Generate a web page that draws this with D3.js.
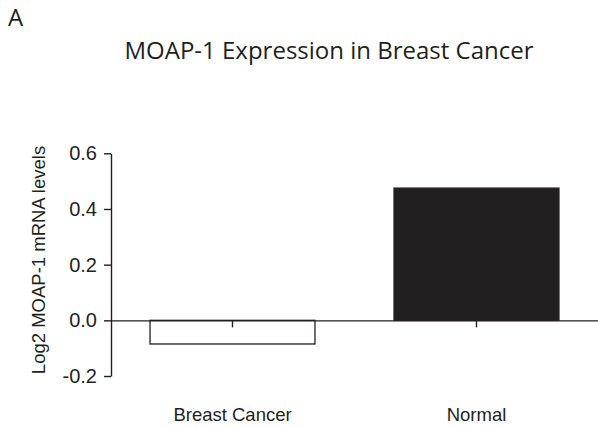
<!DOCTYPE html>
<html>
<head>
<meta charset="utf-8">
<script src="https://cdn.jsdelivr.net/npm/d3@7"></script>
<style>
  body { margin: 0; background: #fff; }
  svg { display: block; }
</style>
</head>
<body>
<svg id="chart" width="598" height="427"></svg>
<script>
// chart data
const categories = ["Breast Cancer", "Normal"];
const values = [-0.085, 0.475];
const yTicks = [-0.2, 0.0, 0.2, 0.4, 0.6];
const titleText = "MOAP-1 Expression in Breast Cancer";
const yLabel = "Log2 MOAP-1 mRNA levels";
const panelLabel = "A";

const ink = "#231f20";
const svg = d3.select("#chart");

const y = d3.scaleLinear()
    .domain([-0.2, 0.6])
    .range([376, 153.3]);

const x = d3.scaleBand()
    .domain(categories)
    .range([111, 598])
    .paddingInner(0.324)
    .paddingOuter(0.16);

// panel letter + title
svg.append("text")
    .attr("x", 8)
    .attr("y", 26)
    .attr("font-family", "Open Sans")
    .attr("font-size", 24)
    .attr("fill", ink)
    .text(panelLabel);

svg.append("text")
    .attr("x", 329)
    .attr("y", 59)
    .attr("text-anchor", "middle")
    .attr("font-family", "Open Sans")
    .attr("font-size", 24)
    .attr("fill", ink)
    .text(titleText);

// bars
svg.selectAll(".bar")
    .data(values)
    .enter()
    .append("rect")
    .attr("class", "bar")
    .attr("x", (d, i) => x(categories[i]))
    .attr("width", x.bandwidth())
    .attr("y", d => y(Math.max(0, d)))
    .attr("height", d => Math.abs(y(d) - y(0)))
    .attr("fill", (d, i) => i === 0 ? "#fff" : ink)
    .attr("stroke", ink)
    .attr("stroke-width", 1.3);

// y axis
const yAxis = svg.append("g")
    .attr("transform", "translate(111,0)")
    .call(d3.axisLeft(y)
        .tickValues(yTicks)
        .tickFormat(d => d.toFixed(1))
        .tickSize(7)
        .tickSizeOuter(0)
        .tickPadding(7));

// x axis along zero
const xAxis = svg.append("g")
    .attr("transform", `translate(0,${y(0)})`)
    .call(d3.axisBottom(x)
        .tickSize(7)
        .tickSizeOuter(0)
        .tickPadding(81));

[yAxis, xAxis].forEach(g => {
    g.select(".domain").attr("stroke", ink).attr("stroke-width", 1.4);
    g.selectAll(".tick line").attr("stroke", ink).attr("stroke-width", 1.4);
    g.selectAll(".tick text")
        .attr("fill", ink)
        .attr("font-family", "Liberation Sans")
        .attr("font-size", 20);
});
xAxis.selectAll(".tick text").attr("font-size", 18.5);

// y label
svg.append("text")
    .attr("transform", "translate(45,260) rotate(-90)")
    .attr("text-anchor", "middle")
    .attr("font-family", "Liberation Sans")
    .attr("font-size", 18.5)
    .attr("fill", ink)
    .text(yLabel);
</script>
</body>
</html>
